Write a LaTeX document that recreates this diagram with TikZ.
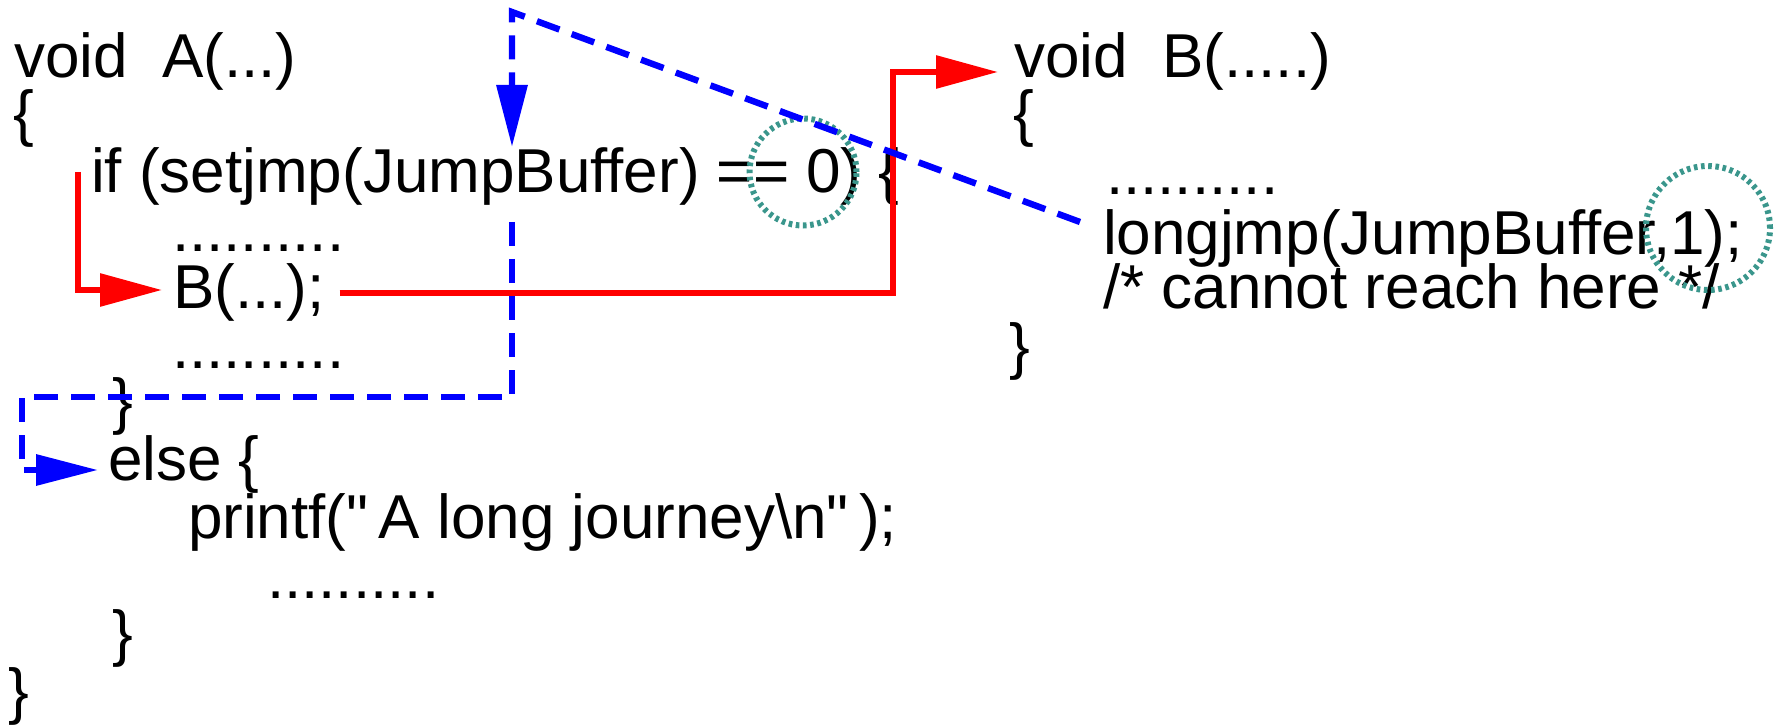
\documentclass[tikz,border=0pt]{standalone}
\usepackage{fontspec}
% plain family: no TeX ligature mapping, so quotes stay straight
\newfontfamily\codefont{Liberation Sans}
\usetikzlibrary{arrows.meta}
\definecolor{jumpred}{RGB}{255,0,0}
\definecolor{jumpblue}{RGB}{0,0,255}
\definecolor{markteal}{RGB}{58,150,140}
\begin{document}
\begin{tikzpicture}[x=0.5pt,y=-0.5pt,
  code/.style={anchor=base west, inner sep=0pt, outer sep=0pt,
    font=\codefont\fontsize{31pt}{37pt}\selectfont},
  callflow/.style={draw=jumpred, line width=3pt,
    -{Triangle[length=31pt,width=16pt]}},
  jumpflow/.style={draw=jumpblue, line width=3.2pt,
    dash pattern=on 12pt off 6.5pt,
    -{Triangle[length=31pt,width=15pt]}},
  spot/.style={circle, draw=markteal, line width=3pt,
    dash pattern=on 1.8pt off 1.8pt, inner sep=0pt}]
\useasboundingbox (0,0) rectangle (1783,727);

% function A
\node[code] (voidA)   at (14,78)   {void\ \ A(...)};
\node[code] (lbA)     at (13,135)  {\{};
\node[code] (ifline)  at (91,193)  {if (setjmp(JumpBuffer) == 0) \{};
\node[code] (dotsA1)  at (172,252) {..........};
\node[code] (Bcall)   at (173,308) {B(...);};
\node[code] (dotsA2)  at (172,368) {..........};
\node[code] (rbIf)    at (112,422) {\}};
\node[code] (elseline) at (108,480) {else \{};
\node[code] (printfline) at (188,538) {printf("\,A long journey\textbackslash n"\,);};
\node[code] (dotsA3)  at (267,598) {..........};
\node[code] (rbElse)  at (112,654) {\}};
\node[code] (rbA)     at (9,712)   {\}};

% function B
\node[code] (voidB)   at (1014,78)  {void\ \ B(.....)};
\node[code] (lbB)     at (1013,135) {\{};
\node[code] (dotsB)   at (1106,195) {..........};
\node[code] (longjmp) at (1103,255) {longjmp(JumpBuffer,1);};
\node[code] (comment) at (1103,308) {/* cannot reach here */};
\node[code] (rbB)     at (1009,367) {\}};

% highlighted return values
\node[spot, minimum size=53.5pt] (zeroMark) at (803,172) {};
\node[spot, minimum size=62pt]   (oneMark)  at (1708,228) {};

% bends of the connectors
\coordinate (callstart)    at (78,172);
\coordinate (callturn)     at (893,72);
\coordinate (jumpcorner)   at (512,12);
\coordinate (setjmpTop)    at (512,147);
\coordinate (setjmpBottom) at (512,222);
\coordinate (jumpleft)     at (22,397);

% normal call A -> B
\draw[callflow, shorten >=5.5pt] (callstart) |- ([yshift=9pt]Bcall.base west);
\draw[callflow, shorten >=8pt]
  ([xshift=7.5pt,yshift=7.5pt]Bcall.base east) -| (callturn)
  -- ([yshift=3pt]voidB.base west);

% longjmp back to setjmp, then into the else branch
\draw[jumpflow] ([xshift=-11.5pt,yshift=16.5pt]longjmp.base west)
  -- (jumpcorner) -- (setjmpTop);
\draw[jumpflow, shorten >=5pt] (setjmpBottom) |- (jumpleft)
  |- ([yshift=5pt]elseline.base west);
\end{tikzpicture}
\end{document}
